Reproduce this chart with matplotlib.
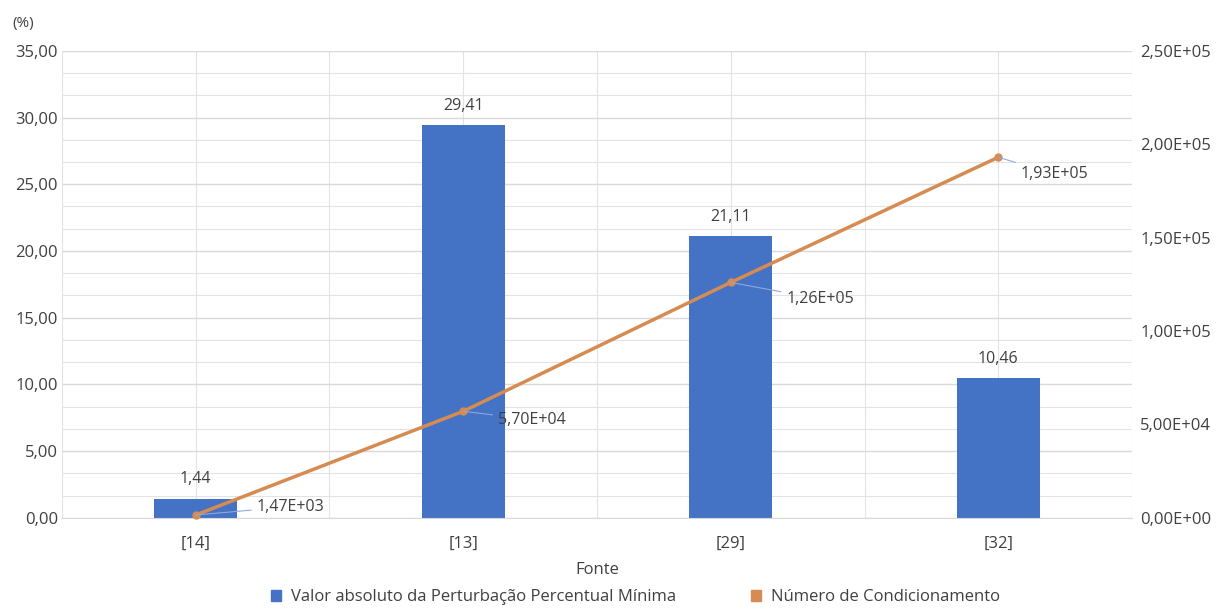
import numpy as np
import matplotlib.pyplot as plt
from matplotlib.ticker import MultipleLocator, FuncFormatter
from matplotlib.patches import Patch

plt.rcParams['font.family'] = ['Open Sans', 'DejaVu Sans']

# Data
fontes = ['[14]', '[13]', '[29]', '[32]']
perturbacao = [1.44, 29.41, 21.11, 10.46]
condicionamento = [1.47e3, 5.70e4, 1.26e5, 1.93e5]
# label offsets (points) for the line annotations
label_offsets = [(44, 6), (25, -6), (40, -12), (16, -12)]

bar_color = '#4472C4'
line_color = '#D68B52'
grid_color = '#E3E3E3'
text_color = '#404040'

def pt_br(v, nd=2):
    return f'{v:.{nd}f}'.replace('.', ',')

def sci_br(v, pos=None):
    return f'{v:.2E}'.replace('.', ',')

fig = plt.figure(figsize=(12.17, 6.12), dpi=100)
ax = fig.add_axes([0.0509, 0.154, 0.8793, 0.763])
x = np.arange(len(fontes))

# grid
ax.set_ylim(0, 35)
ax.set_xlim(-0.5, len(fontes) - 0.5)
ax.yaxis.set_major_locator(MultipleLocator(5))
ax.yaxis.set_minor_locator(MultipleLocator(5 / 3))
ax.grid(which='major', axis='y', color='#D9D9D9', lw=1)
ax.grid(which='minor', axis='y', color=grid_color, lw=0.8)
for xv in np.arange(-0.5, len(fontes), 0.5):
    ax.axvline(xv, color=grid_color, lw=0.8, zorder=0)
ax.set_axisbelow(True)

ax.bar(x, perturbacao, width=0.31, color=bar_color, zorder=2,
       label='Valor absoluto da Perturbação Percentual Mínima')
for xi, v in zip(x, perturbacao):
    ax.annotate(pt_br(v), (xi, v), xytext=(0, 8), textcoords='offset points',
                ha='center', va='bottom', fontsize=11.5, color=text_color)

ax.set_xticks(x)
ax.set_xticklabels(fontes)
ax.yaxis.set_major_formatter(FuncFormatter(lambda v, p: pt_br(v)))
ax.tick_params(axis='y', which='both', length=0, labelsize=12,
               colors=text_color, pad=3)
ax.tick_params(axis='x', which='both', length=0, labelsize=12,
               colors=text_color, pad=13)
ax.set_xlabel('Fonte', fontsize=12, color=text_color, labelpad=7)
for s in ax.spines.values():
    s.set_visible(False)
ax.spines['bottom'].set_visible(True)
ax.spines['bottom'].set_color('#D9D9D9')

ax2 = ax.twinx()
ax2.set_ylim(0, 2.5e5)
ax2.yaxis.set_major_locator(MultipleLocator(5e4))
ax2.yaxis.set_major_formatter(FuncFormatter(sci_br))
ax2.tick_params(axis='y', length=0, labelsize=12, colors=text_color, pad=6)
for s in ax2.spines.values():
    s.set_visible(False)
ax2.plot(x, condicionamento, color=line_color, lw=2.5, marker='o', ms=5,
         label='Número de Condicionamento', zorder=3, clip_on=False)
for xi, v, off in zip(x, condicionamento, label_offsets):
    ax2.annotate(sci_br(v), (xi, v), xytext=off, textcoords='offset points',
                 ha='left', va='center', fontsize=11.5, color=text_color,
                 arrowprops=dict(arrowstyle='-', color='#8EA9DB', lw=0.8,
                                 shrinkA=2, shrinkB=0))

fig.text(0.01, 0.962, '(%)', fontsize=11, color=text_color, va='center')

handles = [Patch(color=bar_color, label='Valor absoluto da Perturbação Percentual Mínima'),
           Patch(color=line_color, label='Número de Condicionamento')]
fig.legend(handles=handles, loc='center', bbox_to_anchor=(0.522, 0.024), ncol=2,
           frameon=False, fontsize=12, handlelength=0.6, handleheight=0.6,
           columnspacing=4.5, labelcolor=text_color, handletextpad=0.6,
           borderpad=0)

fig.savefig('out.png', dpi=100)
